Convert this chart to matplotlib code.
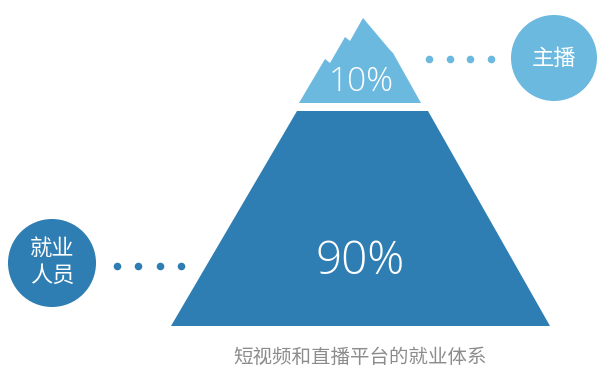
import matplotlib.pyplot as plt
from matplotlib.patches import Polygon, Circle

plt.rcParams['font.family'] = ['Noto Sans CJK SC', 'DejaVu Sans']

# data
groups = ['主播', '就业\n人员']
shares = [10, 90]
caption = '短视频和直播平台的就业体系'

light = '#6cb9e0'
dark = '#2e7db3'

fig = plt.figure(figsize=(5.97, 3.68), dpi=100)
ax = fig.add_axes([0, 0, 1, 1])
ax.set_xlim(0, 597)
ax.set_ylim(368, 0)
ax.axis('off')

# top peak (jagged snow cap)
peak = [(299, 103), (325, 59), (330, 63), (345, 37), (350, 41), (363, 18),
        (390, 50), (393, 53), (421, 103)]
ax.add_patch(Polygon(peak, closed=True, fc=light, ec='none'))

# bottom trapezoid
base = [(297, 111), (428, 111), (550, 326), (171, 326)]
ax.add_patch(Polygon(base, closed=True, fc=dark, ec='none'))

ax.text(361, 82, '%d%%' % shares[0], color='white', fontsize=24,
        fontweight=300, ha='center', va='center', family='Open Sans')
ax.text(360, 262, '%d%%' % shares[1], color='white', fontsize=33,
        fontweight=300, ha='center', va='center', family='Open Sans')

# circles
ax.add_patch(Circle((554, 58), 43, fc=light, ec='none'))
ax.text(554, 58, groups[0], color='white', fontsize=16, fontweight=300,
        ha='center', va='center')
ax.add_patch(Circle((52, 263), 44, fc=dark, ec='none'))
ax.text(52, 262, groups[1], color='white', fontsize=16, fontweight=300,
        ha='center', va='center', linespacing=1.2)

# dotted connectors
ax.scatter([429, 450, 470, 491], [59] * 4, s=30, color=light, lw=0)
ax.scatter([117, 138, 160, 181], [266] * 4, s=30, color=dark, lw=0)

ax.text(360, 357, caption, color='#8c8c8c', fontsize=14, fontweight=300,
        ha='center', va='center')

fig.savefig('out.png', dpi=100)
